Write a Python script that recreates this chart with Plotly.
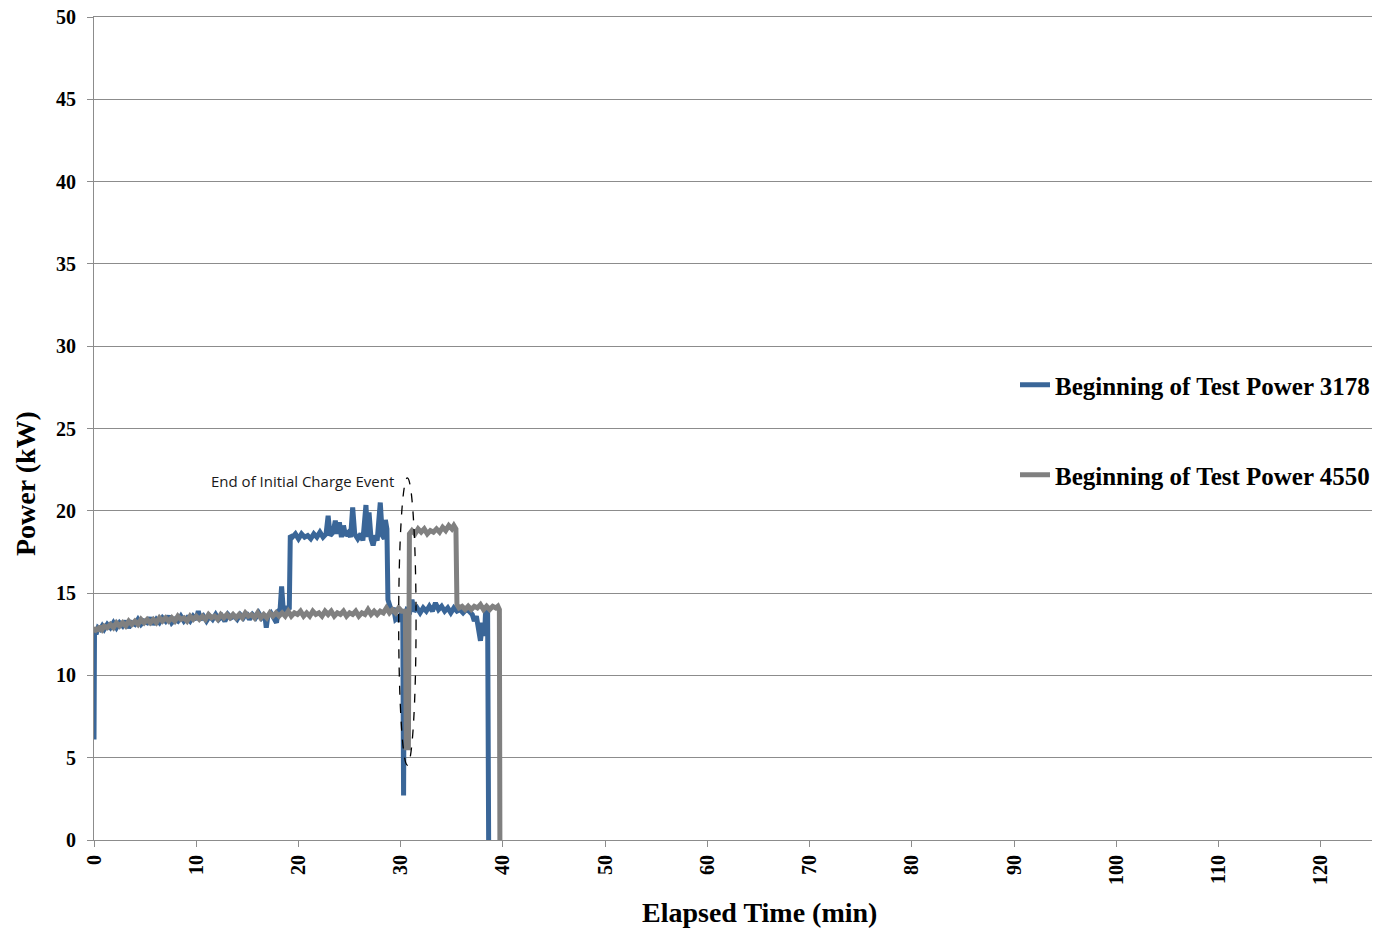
import plotly.graph_objects as go

# ---- Data ----
t_3178 = [0.0, 0.05, 0.2, 0.4, 0.6, 0.8, 1.0, 1.3, 1.6, 1.9, 2.2, 2.5, 2.8, 3.1, 3.4, 3.7,
          4.0, 4.3, 4.6, 4.9, 5.2, 5.5, 5.8, 6.1, 6.4, 6.7, 7.0, 7.3, 7.6, 7.9, 8.2, 8.5,
          8.8, 9.1, 9.4, 9.7, 10.0, 10.2, 10.4, 10.7, 11.0, 11.3, 11.6, 11.9, 12.2, 12.5,
          12.8, 13.1, 13.4, 13.7, 14.0, 14.3, 14.6, 14.9, 15.2, 15.5, 15.8, 16.1, 16.4,
          16.7, 16.85, 17.0, 17.3, 17.6, 17.85, 18.0, 18.2, 18.35, 18.5, 18.7, 18.9, 19.1,
          19.2, 19.4, 19.7, 20.0, 20.3, 20.6, 20.9, 21.2, 21.5, 21.8, 22.1, 22.4, 22.7,
          22.9, 23.1, 23.4, 23.6, 23.8, 24.0, 24.2, 24.4, 24.6, 24.9, 25.1, 25.3, 25.5,
          25.8, 26.1, 26.3, 26.6, 26.75, 26.9, 27.1, 27.3, 27.5, 27.7, 28.0, 28.2, 28.4,
          28.5, 28.65, 28.75, 28.9, 29.1, 29.3, 29.5, 29.7, 29.9, 30.1, 30.2, 30.28, 30.36,
          30.6, 30.9, 31.1, 31.3, 31.6, 31.9, 32.2, 32.5, 32.8, 33.1, 33.4, 33.7, 34.0,
          34.3, 34.6, 34.9, 35.2, 35.5, 35.8, 36.1, 36.4, 36.7, 37.0, 37.2, 37.4, 37.6,
          37.8, 38.0, 38.2, 38.3, 38.5, 38.6]
p_3178 = [6.1, 12.8, 12.5, 12.9, 12.8, 13.0, 12.8, 13.1, 12.9, 13.2, 12.9, 13.2, 13.0, 13.3, 12.9, 13.2,
          13.1, 13.4, 13.1, 13.3, 13.2, 13.5, 13.1, 13.4, 13.2, 13.5, 13.3, 13.6, 13.2, 13.4, 13.3, 13.6,
          13.3, 13.5, 13.3, 13.6, 13.4, 13.9, 13.4, 13.6, 13.3, 13.6, 13.4, 13.7, 13.4, 13.6,
          13.3, 13.7, 13.5, 13.6, 13.4, 13.7, 13.5, 13.8, 13.4, 13.7, 13.5, 13.8, 13.5,
          13.7, 12.9, 13.6, 13.8, 13.5, 13.2, 13.9, 14.0, 15.4, 14.1, 13.8, 14.2, 14.0,
          18.5, 18.4, 18.6, 18.3, 18.6, 18.4, 18.5, 18.3, 18.6, 18.4, 18.7, 18.4, 18.6,
          19.7, 18.5, 18.7, 19.4, 18.6, 19.3, 18.4, 19.1, 18.5, 18.7, 18.4, 20.2, 18.6,
          18.3, 18.6, 18.2, 20.35, 18.4, 19.9, 18.3, 17.9, 18.5, 18.2, 20.5, 18.5, 18.3,
          19.45, 18.9, 14.6, 14.3, 13.9, 14.1, 13.4, 13.5, 13.3, 13.8, 13.8, 2.7, 13.6,
          14.0, 13.9, 14.6, 13.9, 14.1, 13.8, 14.1, 13.9, 14.2, 13.9, 14.4, 14.0, 14.2,
          13.9, 14.1, 13.8, 14.1, 13.9, 14.0, 13.8, 14.0, 13.9, 13.7, 13.3, 13.6, 12.6,
          12.1, 13.2, 12.4, 13.9, 13.8, 0.0]

t_4550 = [0.0, 0.2, 0.4, 0.6, 0.8, 1.0, 1.3, 1.6, 1.9, 2.2, 2.5, 2.8, 3.1, 3.4, 3.7, 4.0,
          4.3, 4.6, 4.9, 5.2, 5.5, 5.8, 6.1, 6.4, 6.7, 7.0, 7.3, 7.6, 7.9, 8.2, 8.5, 8.8,
          9.1, 9.4, 9.7, 10.0, 10.3, 10.6, 10.9, 11.2, 11.5, 11.8, 12.1, 12.4, 12.7, 13.0,
          13.3, 13.6, 13.9, 14.2, 14.5, 14.8, 15.1, 15.4, 15.7, 16.0, 16.3, 16.6, 16.9,
          17.2, 17.5, 17.8, 18.1, 18.4, 18.7, 19.0, 19.3, 19.6, 19.9, 20.2, 20.5, 20.8,
          21.1, 21.4, 21.7, 22.0, 22.3, 22.6, 22.9, 23.2, 23.5, 23.8, 24.1, 24.4, 24.7,
          25.0, 25.3, 25.6, 25.9, 26.2, 26.5, 26.8, 27.1, 27.4, 27.7, 28.0, 28.3, 28.6,
          28.9, 29.2, 29.5, 29.8, 30.1, 30.45, 30.55, 30.75, 30.85, 31.1, 31.4, 31.7,
          32.0, 32.3, 32.6, 32.9, 33.2, 33.5, 33.8, 34.1, 34.4, 34.7, 35.0, 35.2, 35.4,
          35.5, 35.7, 36.0, 36.3, 36.6, 36.9, 37.2, 37.5, 37.8, 38.1, 38.4, 38.7, 39.0,
          39.3, 39.5, 39.65, 39.7]
p_4550 = [12.6, 12.9, 12.7, 13.0, 12.8, 13.0, 12.9, 13.1, 12.9, 13.2, 13.0, 13.2, 13.0, 13.3, 13.1, 13.3,
          13.1, 13.4, 13.2, 13.4, 13.2, 13.4, 13.2, 13.5, 13.3, 13.5, 13.3, 13.5, 13.3, 13.6, 13.4, 13.5,
          13.3, 13.6, 13.4, 13.6, 13.4, 13.6, 13.4, 13.7, 13.5, 13.6, 13.4, 13.7, 13.5, 13.7,
          13.5, 13.7, 13.5, 13.7, 13.5, 13.8, 13.6, 13.7, 13.5, 13.8, 13.5, 13.7, 13.5,
          13.8, 13.6, 13.8, 13.6, 13.8, 13.6, 13.9, 13.6, 13.8, 13.7, 13.9, 13.6, 13.8,
          13.6, 13.9, 13.7, 13.8, 13.6, 13.9, 13.7, 13.9, 13.6, 13.8, 13.7, 13.9, 13.6,
          13.8, 13.7, 13.9, 13.6, 13.8, 13.7, 14.0, 13.7, 13.9, 13.7, 13.9, 13.8, 14.1,
          13.8, 14.0, 13.8, 14.1, 13.9, 13.9, 5.6, 5.6, 18.6, 18.8, 18.6, 18.9,
          18.7, 18.9, 18.6, 18.8, 18.7, 18.9, 18.7, 19.0, 18.8, 19.1, 18.9, 19.1, 18.9,
          14.3, 14.1, 14.2, 14.0, 14.2, 14.0, 14.2, 14.1, 14.3, 14.0, 14.2, 14.0, 14.2,
          14.1, 14.2, 14.0, 0.0]

series_names = ["Beginning of Test Power 3178", "Beginning of Test Power 4550"]
series_colors = ["#3A6698", "#808080"]

y_ticks = [0, 5, 10, 15, 20, 25, 30, 35, 40, 45, 50]
x_ticks = [0, 10, 20, 30, 40, 50, 60, 70, 80, 90, 100, 110, 120]

annotation_text = "End of Initial Charge Event"

SERIF = "Liberation Serif, Times New Roman, serif"
GRID = "#8C8C8C"

# plot area target (window px): x 94..1372, y 17..840 ; page body margin removed below
W, H = 1392, 932
PL, PR, PT, PB = 94, 1372, 17, 840
PW, PH = PR - PL, PB - PT


def px_x(v):
    return (v - PL) / PW


def px_y(v):
    return (PB - v) / PH


fig = go.Figure()
fig.add_trace(go.Scatter(x=t_3178, y=p_3178, mode="lines", name=series_names[0],
                         line=dict(color=series_colors[0], width=5), legend="legend"))
fig.add_trace(go.Scatter(x=t_4550, y=p_4550, mode="lines", name=series_names[1],
                         line=dict(color=series_colors[1], width=5), legend="legend2"))

# dashed ellipse around the end of the initial charge event
fig.add_shape(type="circle", xref="x", yref="y", x0=29.8, x1=31.5, y0=4.55, y1=22.0,
              line=dict(color="black", width=1.3, dash="dash"))

fig.add_annotation(x=20.4, y=21.8, xref="x", yref="y", text=annotation_text, showarrow=False,
                   font=dict(family="Open Sans, Lato, sans-serif", size=15, color="#1a1a1a"))

# axis titles
fig.add_annotation(x=px_x(759), y=px_y(912), xref="paper", yref="paper",
                   text="<b>Elapsed Time (min)</b>", showarrow=False, yanchor="middle",
                   font=dict(family=SERIF, size=28, color="black"))
fig.add_annotation(x=px_x(25), y=px_y(484), xref="paper", yref="paper",
                   text="<b>Power (kW)</b>", showarrow=False, textangle=-90,
                   xanchor="center", yanchor="middle",
                   font=dict(family=SERIF, size=28, color="black"))

legend_common = dict(bgcolor="rgba(0,0,0,0)", borderwidth=0, xanchor="left", yanchor="middle",
                     font=dict(family=SERIF, size=25, color="black", weight="bold"))

fig.update_layout(
    width=W, height=H,
    margin=dict(l=PL, r=W - PR, t=PT, b=H - PB, autoexpand=False),
    paper_bgcolor="white", plot_bgcolor="white",
    showlegend=True,
    legend=dict(x=px_x(1015), y=px_y(385), **legend_common),
    legend2=dict(x=px_x(1015), y=px_y(475), **legend_common),
    xaxis=dict(range=[0, 125], tickvals=x_ticks, ticktext=[f"<b>{v}</b>" for v in x_ticks],
               tickangle=-90, ticks="outside", ticklen=6, tickcolor=GRID, tickwidth=1,
               showgrid=False, showline=True, mirror=True, linecolor=GRID, linewidth=1,
               zeroline=False, automargin=False, ticklabeloverflow="allow",
               tickfont=dict(family=SERIF, size=20, color="black")),
    yaxis=dict(range=[0, 50], tickvals=y_ticks, ticktext=[f"<b>{v}</b>" for v in y_ticks],
               ticks="outside", ticklen=6, tickcolor=GRID, tickwidth=1, ticklabelstandoff=7,
               showgrid=True, gridcolor=GRID, gridwidth=1, showline=True, linecolor=GRID,
               linewidth=1, zeroline=False, automargin=False, ticklabeloverflow="allow",
               tickfont=dict(family=SERIF, size=20, color="black")),
)

fig.write_html("out.html", config={"displayModeBar": False},
               post_script="document.body.style.margin='0';document.body.style.overflow='hidden';")
